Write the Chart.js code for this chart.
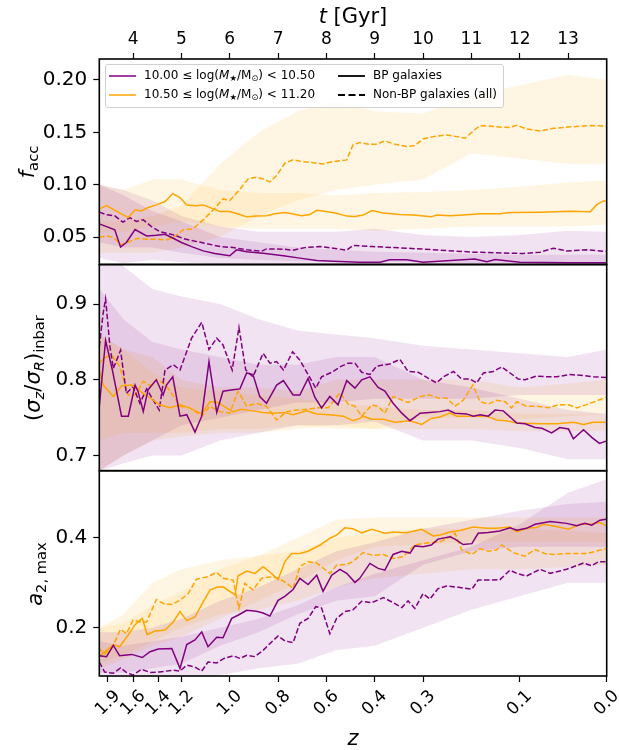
<!DOCTYPE html>
<html>
<head>
<meta charset="utf-8">
<script src="https://cdn.jsdelivr.net/npm/chart.js@4.4.1/dist/chart.umd.min.js"></script>
<style>
  body { margin: 0; background: #fff; }
  #wrap { position: relative; width: 619px; height: 750px; font-family: 'DejaVu Sans', sans-serif; color: #000; }
  #wrap canvas { position: absolute; left: 0; top: 0; }
  .lab { position: absolute; white-space: nowrap; line-height: 1; }
  .ylab { font-size: 21px; transform: translate(-50%, -50%) rotate(-90deg); }
  .xlab { font-size: 21px; transform: translate(-50%, -50%); }
  .lab sub { font-size: 0.7em; vertical-align: -0.3em; line-height: 0; }
  #legend { position: absolute; left: 105px; top: 64px; width: 397px; height: 42px;
            background: rgba(255,255,255,0.8); border: 1px solid #d0d0d0; border-radius: 3px; font-size: 12px; }
  #legend svg { position: absolute; }
  #legend span { position: absolute; white-space: nowrap; line-height: 14px; }
  #legend sub { font-size: 0.7em; vertical-align: -0.25em; line-height: 0; }
</style>
</head>
<body>
<div id="wrap">
  <canvas id="c1" width="619" height="750"></canvas>
  <canvas id="c2" width="619" height="750"></canvas>
  <canvas id="c3" width="619" height="750"></canvas>

  <div class="lab xlab" style="left:353px; top:16px;"><i>t</i> [Gyr]</div>
  <div class="lab xlab" style="left:353px; top:738px;"><i>z</i></div>
  <div class="lab ylab" style="left:27px; top:162px;"><i>f</i><sub>acc</sub></div>
  <div class="lab ylab" style="left:33px; top:368px;">(<i>σ</i><sub><i>z</i></sub>/<i>σ</i><sub><i>R</i></sub>)<sub>inbar</sub></div>
  <div class="lab ylab" style="left:35px; top:574px;"><i>a</i><sub>2, max</sub></div>

  <div id="legend">
    <svg style="left:3px; top:9px;" width="28" height="4"><line x1="0" y1="2" x2="27" y2="2" stroke="#800080" stroke-width="1.5"/></svg>
    <span style="left:38px; top:3px;">10.00 ≤ log(<i>M</i><sub>★</sub>/M<sub>⊙</sub>) &lt; 10.50</span>
    <svg style="left:3px; top:28px;" width="28" height="4"><line x1="0" y1="2" x2="27" y2="2" stroke="#ffa500" stroke-width="1.5"/></svg>
    <span style="left:38px; top:22px;">10.50 ≤ log(<i>M</i><sub>★</sub>/M<sub>⊙</sub>) &lt; 11.20</span>
    <svg style="left:232px; top:9px;" width="28" height="4"><line x1="0" y1="2" x2="27" y2="2" stroke="#000" stroke-width="1.8"/></svg>
    <span style="left:267px; top:3px;">BP galaxies</span>
    <svg style="left:232px; top:28px;" width="28" height="4"><line x1="0" y1="2" x2="27" y2="2" stroke="#000" stroke-width="1.8" stroke-dasharray="7,3.5"/></svg>
    <span style="left:267px; top:22px;">Non-BP galaxies (all)</span>
  </div>
</div>

<script>
// ---------- data (t in Gyr) ----------
// lo = 10.00-10.50 (purple), hi = 10.50-11.20 (orange), bp = BP galaxies (solid), nb = non-BP (dashed)

// x axis
const tMin = 3.30;
const tMax = 13.80;
const tTicks = [4, 5, 6, 7, 8, 9, 10, 11, 12, 13];
const zTickT = [3.48, 4.00, 4.52, 5.00, 6.00, 7.00, 8.00, 9.00, 10.00, 12.00, 13.80];
const zTickLabels = ['1.9', '1.6', '1.4', '1.2', '1.0', '0.8', '0.6', '0.4', '0.3', '0.1', '0.0'];

// y ticks
const faccTicks = [0.05, 0.10, 0.15, 0.20];
const faccTickLabels = ['0.05', '0.10', '0.15', '0.20'];
const sigTicks = [0.7, 0.8, 0.9];
const sigTickLabels = ['0.7', '0.8', '0.9'];
const a2Ticks = [0.2, 0.4];
const a2TickLabels = ['0.2', '0.4'];

// f_acc
const tFaccHiBp = [3.30,3.45,3.69,3.90,4.04,4.17,4.31,4.48,4.66,4.82,4.97,5.11,5.31,5.45,5.66,5.80,6.00,6.17,6.35,6.55,6.76,6.93,7.14,7.31,7.49,7.66,7.80,8.00,8.21,8.42,8.59,8.76,8.94,9.18,9.52,9.80,10.17,10.28,10.56,10.83,11.18,11.59,11.80,12.42,13.04,13.46,13.59,13.73,13.80];
const faccHiBp = [0.0769,0.080,0.0738,0.0686,0.076,0.075,0.0782,0.0807,0.0839,0.0915,0.0877,0.0807,0.0798,0.0807,0.0769,0.0744,0.0744,0.0721,0.0693,0.070,0.0703,0.0722,0.0735,0.0721,0.0703,0.0715,0.0756,0.0744,0.0727,0.070,0.0696,0.071,0.0753,0.073,0.0715,0.071,0.0693,0.071,0.0703,0.071,0.0722,0.0722,0.0735,0.0738,0.0747,0.0741,0.0807,0.0845,0.0845];
const tFaccHiNb = [3.30,3.45,3.59,3.76,3.93,4.10,4.28,4.48,4.69,4.86,5.04,5.24,5.45,5.66,5.86,6.00,6.17,6.38,6.55,6.69,6.83,6.97,7.14,7.31,7.49,7.69,7.93,8.14,8.42,8.55,8.69,8.87,9.04,9.21,9.42,9.66,9.83,10.00,10.21,10.49,10.70,10.87,11.04,11.18,11.39,11.59,11.80,11.94,12.14,12.42,12.70,13.11,13.46,13.80];
const faccHiNb = [0.0495,0.0511,0.0495,0.0426,0.0458,0.0489,0.048,0.048,0.0473,0.0505,0.0569,0.0578,0.0664,0.076,0.0864,0.085,0.0934,0.1055,0.1071,0.1055,0.1027,0.1087,0.1205,0.1237,0.1221,0.1211,0.1198,0.1221,0.1237,0.138,0.1402,0.1386,0.1386,0.1418,0.1386,0.1364,0.1373,0.1437,0.1459,0.1475,0.1459,0.1443,0.1513,0.1564,0.156,0.155,0.1547,0.1567,0.1532,0.1513,0.1538,0.1554,0.1564,0.156];
const tFaccLoBp = [3.30,3.45,3.62,3.74,3.86,4.04,4.28,4.48,4.66,4.83,5.00,5.21,5.45,5.69,6.00,6.14,6.35,6.69,7.11,7.45,7.80,8.14,8.69,9.11,9.31,9.66,10.00,11.07,11.32,11.49,12.00,13.00,13.80];
const faccLoBp = [0.0626,0.060,0.0569,0.0404,0.0448,0.0572,0.0511,0.0517,0.0527,0.0489,0.0448,0.0409,0.0368,0.0343,0.0321,0.0378,0.036,0.0346,0.0321,0.0299,0.0276,0.027,0.026,0.026,0.0283,0.0283,0.026,0.029,0.0265,0.0286,0.026,0.0255,0.0255];
const tFaccLoNb = [3.30,3.45,3.62,3.79,3.93,4.07,4.21,4.38,4.55,4.83,5.04,5.24,5.52,5.80,6.07,6.35,6.66,6.76,7.11,7.31,7.59,7.87,8.14,8.42,8.55,8.94,9.66,10.35,11.04,12.07,12.42,12.70,12.97,13.39,13.80];
const faccLoNb = [0.0738,0.0713,0.0703,0.0642,0.0686,0.0649,0.0664,0.060,0.0553,0.0521,0.0486,0.0464,0.0438,0.0409,0.040,0.0378,0.0365,0.0387,0.0384,0.0375,0.0403,0.0409,0.0394,0.0375,0.0419,0.041,0.0394,0.0375,0.0356,0.0343,0.0356,0.0394,0.0368,0.0378,0.0362];

// (sigma_z/sigma_R)_inbar
const tSigLoBp = [3.30,3.43,3.57,3.76,3.90,4.04,4.10,4.21,4.31,4.48,4.62,4.69,4.82,4.97,5.11,5.28,5.42,5.57,5.73,5.86,6.07,6.21,6.35,6.48,6.62,6.76,6.97,7.11,7.31,7.45,7.62,7.76,7.90,8.07,8.24,8.42,8.59,8.73,8.90,9.07,9.21,9.38,9.56,9.73,9.94,10.14,10.35,10.52,10.66,10.90,11.04,11.18,11.35,11.49,11.66,11.94,12.11,12.32,12.46,12.66,12.83,13.01,13.11,13.32,13.49,13.65,13.79];
const sigLoBp = [0.765,0.852,0.813,0.752,0.752,0.793,0.785,0.758,0.787,0.800,0.780,0.793,0.804,0.752,0.754,0.731,0.752,0.824,0.757,0.785,0.787,0.788,0.809,0.807,0.778,0.769,0.793,0.799,0.780,0.780,0.802,0.777,0.763,0.778,0.767,0.799,0.789,0.800,0.804,0.790,0.785,0.769,0.756,0.746,0.756,0.757,0.758,0.760,0.756,0.755,0.752,0.754,0.752,0.760,0.759,0.743,0.742,0.737,0.736,0.730,0.737,0.735,0.722,0.734,0.724,0.716,0.719];
const tSigLoNb = [3.30,3.38,3.43,3.52,3.59,3.74,3.86,4.00,4.14,4.28,4.41,4.54,4.66,4.83,4.97,5.21,5.42,5.57,5.73,5.86,6.05,6.19,6.33,6.48,6.69,6.83,6.97,7.11,7.30,7.45,7.62,7.78,7.90,8.11,8.28,8.45,8.59,8.73,8.90,9.04,9.31,9.52,9.69,9.90,10.11,10.28,10.42,10.63,10.80,10.97,11.11,11.25,11.45,11.63,11.80,11.97,12.11,12.35,12.56,12.77,13.04,13.25,13.52,13.79];
const sigLoNb = [0.844,0.888,0.907,0.844,0.815,0.839,0.782,0.791,0.769,0.788,0.774,0.760,0.813,0.820,0.813,0.855,0.876,0.840,0.855,0.846,0.813,0.869,0.813,0.804,0.835,0.822,0.824,0.813,0.837,0.826,0.807,0.789,0.804,0.810,0.817,0.822,0.822,0.810,0.807,0.818,0.821,0.827,0.811,0.810,0.802,0.796,0.804,0.811,0.801,0.801,0.796,0.809,0.811,0.817,0.809,0.801,0.800,0.805,0.804,0.804,0.807,0.806,0.804,0.803];
const tSigHiBp = [3.30,3.38,3.59,3.76,3.97,4.14,4.35,4.55,4.76,4.97,5.17,5.42,5.59,5.76,5.93,6.07,6.24,6.48,6.69,6.90,7.11,7.31,7.59,7.80,8.07,8.35,8.55,8.69,8.76,8.94,9.18,9.42,9.73,9.97,10.17,10.35,10.56,10.70,11.04,11.32,11.52,11.73,11.94,12.42,12.77,13.11,13.32,13.52,13.79];
const sigHiBp = [0.813,0.793,0.778,0.792,0.793,0.785,0.776,0.767,0.763,0.767,0.763,0.755,0.771,0.770,0.763,0.758,0.761,0.759,0.757,0.756,0.757,0.754,0.759,0.755,0.754,0.752,0.746,0.749,0.752,0.748,0.748,0.744,0.746,0.741,0.749,0.751,0.756,0.752,0.752,0.752,0.747,0.746,0.743,0.742,0.742,0.744,0.741,0.744,0.744];
const tSigHiNb = [3.30,3.41,3.55,3.72,3.90,4.04,4.21,4.35,4.48,4.62,4.76,4.97,5.17,5.42,5.59,5.80,6.00,6.17,6.35,6.55,6.76,6.97,7.18,7.38,7.59,7.83,8.04,8.28,8.45,8.59,8.73,8.94,9.07,9.21,9.38,9.69,9.94,10.14,10.31,10.49,10.66,10.83,11.03,11.18,11.35,11.52,11.70,11.83,11.94,12.14,12.35,12.59,12.80,13.01,13.18,13.42,13.79];
const sigHiNb = [0.822,0.829,0.833,0.818,0.780,0.780,0.798,0.792,0.800,0.796,0.786,0.765,0.763,0.752,0.765,0.758,0.756,0.785,0.765,0.769,0.765,0.747,0.758,0.760,0.761,0.763,0.763,0.783,0.768,0.765,0.752,0.767,0.765,0.756,0.778,0.770,0.778,0.780,0.776,0.776,0.765,0.773,0.793,0.771,0.768,0.773,0.771,0.763,0.771,0.765,0.765,0.763,0.767,0.767,0.763,0.768,0.777];

// a_2,max
const tA2HiBp = [3.30,3.45,3.59,3.72,3.90,4.04,4.19,4.29,4.45,4.66,4.83,4.97,5.11,5.28,5.42,5.59,5.73,5.86,6.00,6.11,6.17,6.35,6.52,6.69,6.83,7.00,7.14,7.28,7.45,7.62,7.87,8.07,8.21,8.38,8.55,8.73,8.94,9.21,9.38,9.66,9.97,10.21,10.35,10.56,10.76,11.04,11.32,11.52,11.80,11.94,12.14,12.35,12.49,12.70,13.01,13.25,13.46,13.66,13.79];
const a2HiBp = [0.136,0.150,0.163,0.158,0.184,0.207,0.221,0.185,0.193,0.195,0.213,0.236,0.216,0.224,0.252,0.284,0.290,0.291,0.281,0.273,0.315,0.326,0.321,0.336,0.324,0.307,0.347,0.365,0.365,0.370,0.384,0.399,0.406,0.422,0.420,0.411,0.419,0.410,0.413,0.411,0.419,0.404,0.406,0.413,0.416,0.424,0.421,0.421,0.424,0.413,0.421,0.423,0.430,0.426,0.419,0.430,0.430,0.434,0.427];
const tA2HiNb = [3.30,3.41,3.59,3.74,3.86,4.00,4.14,4.28,4.48,4.62,4.80,4.97,5.14,5.31,5.52,5.73,5.86,6.07,6.19,6.31,6.48,6.66,6.83,7.00,7.18,7.31,7.45,7.62,7.80,8.07,8.21,8.42,8.55,8.69,8.76,8.97,9.18,9.38,9.59,9.83,10.11,10.35,10.56,10.66,10.80,11.01,11.18,11.35,11.52,11.63,11.87,12.11,12.32,12.52,12.70,12.97,13.39,13.79];
const a2HiNb = [0.154,0.141,0.161,0.197,0.187,0.217,0.213,0.213,0.263,0.254,0.252,0.261,0.276,0.308,0.313,0.323,0.310,0.306,0.243,0.299,0.284,0.310,0.313,0.311,0.299,0.287,0.336,0.347,0.344,0.321,0.339,0.341,0.347,0.361,0.367,0.361,0.363,0.354,0.358,0.384,0.389,0.391,0.402,0.410,0.373,0.363,0.376,0.370,0.373,0.384,0.367,0.359,0.374,0.365,0.363,0.365,0.365,0.376];
const tA2LoBp = [3.30,3.45,3.59,3.72,3.97,4.19,4.35,4.52,4.80,4.97,5.11,5.28,5.42,5.55,5.73,5.86,6.04,6.17,6.35,6.55,6.69,6.83,7.00,7.14,7.31,7.45,7.62,7.80,7.93,8.11,8.28,8.42,8.59,8.69,8.90,9.07,9.21,9.38,9.56,9.73,9.83,10.00,10.17,10.31,10.56,10.66,10.83,11.01,11.14,11.35,11.59,11.80,11.94,12.14,12.32,12.63,12.97,13.18,13.35,13.49,13.66,13.79];
const a2LoBp = [0.138,0.136,0.161,0.138,0.141,0.134,0.147,0.153,0.154,0.110,0.163,0.173,0.191,0.158,0.179,0.178,0.221,0.228,0.239,0.237,0.233,0.226,0.261,0.270,0.285,0.310,0.296,0.317,0.281,0.317,0.330,0.321,0.301,0.310,0.343,0.332,0.328,0.363,0.370,0.366,0.382,0.380,0.384,0.397,0.402,0.397,0.385,0.387,0.410,0.412,0.415,0.422,0.417,0.421,0.430,0.436,0.432,0.427,0.432,0.428,0.439,0.441];
const tA2LoNb = [3.30,3.41,3.59,3.74,3.86,4.00,4.17,4.35,4.55,4.83,4.97,5.11,5.28,5.42,5.55,5.73,5.88,6.07,6.21,6.35,6.52,6.69,6.83,7.00,7.14,7.31,7.45,7.62,7.78,7.90,8.07,8.21,8.38,8.55,8.73,8.94,9.18,9.38,9.56,9.69,9.83,10.00,10.14,10.31,10.49,10.73,11.01,11.14,11.35,11.59,11.80,11.94,12.14,12.42,12.63,12.97,13.32,13.49,13.63,13.79];
const a2LoNb = [0.124,0.102,0.099,0.111,0.101,0.095,0.108,0.101,0.102,0.106,0.104,0.117,0.113,0.104,0.124,0.122,0.132,0.138,0.132,0.139,0.136,0.150,0.165,0.182,0.171,0.167,0.210,0.221,0.247,0.244,0.187,0.221,0.236,0.240,0.259,0.256,0.267,0.256,0.245,0.260,0.243,0.276,0.264,0.287,0.293,0.290,0.286,0.306,0.306,0.307,0.328,0.321,0.315,0.330,0.321,0.330,0.344,0.338,0.347,0.347];

// shaded ranges (lower / upper edge) on a coarser t grid
const bandT = [3.3, 3.8, 4.4, 5.0, 5.8, 6.6, 7.4, 8.2, 9.0, 10.0, 11.0, 12.0, 13.0, 13.8];
const faccHiNbLo = [0.035,0.035,0.035,0.040,0.050,0.070,0.085,0.095,0.100,0.105,0.130,0.125,0.120,0.120];
const faccHiNbHi = [0.065,0.065,0.070,0.080,0.120,0.150,0.170,0.180,0.170,0.168,0.185,0.195,0.205,0.200];
const faccHiBpLo = [0.055,0.055,0.060,0.065,0.060,0.058,0.058,0.058,0.056,0.058,0.060,0.060,0.060,0.062];
const faccHiBpHi = [0.100,0.095,0.105,0.105,0.095,0.092,0.092,0.090,0.092,0.093,0.095,0.098,0.102,0.104];
const faccLoBpLo = [0.030,0.025,0.028,0.026,0.024,0.022,0.021,0.020,0.020,0.020,0.020,0.019,0.019,0.019];
const faccLoBpHi = [0.100,0.090,0.075,0.065,0.050,0.045,0.040,0.038,0.036,0.035,0.034,0.033,0.033,0.033];
const faccLoNbLo = [0.045,0.040,0.040,0.035,0.030,0.028,0.027,0.027,0.027,0.026,0.025,0.025,0.025,0.025];
const faccLoNbHi = [0.100,0.095,0.085,0.070,0.060,0.055,0.055,0.055,0.058,0.052,0.050,0.052,0.056,0.055];

const sigLoNbLo = [0.68,0.70,0.72,0.74,0.75,0.76,0.77,0.77,0.775,0.775,0.775,0.78,0.78,0.78];
const sigLoNbHi = [0.96,0.95,0.92,0.91,0.90,0.88,0.865,0.86,0.855,0.845,0.84,0.835,0.83,0.84];
const sigLoBpLo = [0.68,0.69,0.70,0.70,0.72,0.73,0.74,0.74,0.745,0.72,0.72,0.71,0.695,0.695];
const sigLoBpHi = [0.92,0.88,0.85,0.84,0.83,0.82,0.82,0.83,0.83,0.80,0.79,0.775,0.76,0.755];
const sigHiBpLo = [0.72,0.73,0.73,0.73,0.735,0.735,0.74,0.735,0.735,0.735,0.735,0.732,0.732,0.733];
const sigHiBpHi = [0.86,0.84,0.81,0.79,0.785,0.78,0.775,0.77,0.765,0.76,0.76,0.755,0.755,0.755];
const sigHiNbLo = [0.68,0.70,0.72,0.725,0.73,0.73,0.735,0.74,0.735,0.75,0.75,0.748,0.752,0.755];
const sigHiNbHi = [0.86,0.84,0.83,0.80,0.79,0.79,0.785,0.80,0.80,0.80,0.80,0.79,0.795,0.80];

const a2HiBpLo = [0.11,0.13,0.16,0.18,0.22,0.26,0.30,0.35,0.38,0.385,0.39,0.39,0.39,0.39];
const a2HiBpHi = [0.20,0.21,0.25,0.28,0.33,0.36,0.40,0.44,0.445,0.445,0.445,0.445,0.445,0.445];
const a2HiNbLo = [0.12,0.14,0.17,0.20,0.23,0.24,0.26,0.29,0.31,0.32,0.33,0.33,0.335,0.34];
const a2HiNbHi = [0.20,0.23,0.30,0.33,0.35,0.36,0.37,0.40,0.41,0.42,0.42,0.42,0.415,0.41];
const a2LoBpLo = [0.10,0.10,0.11,0.12,0.16,0.19,0.23,0.26,0.27,0.34,0.37,0.38,0.38,0.38];
const a2LoBpHi = [0.19,0.19,0.20,0.22,0.26,0.29,0.33,0.37,0.39,0.42,0.44,0.46,0.475,0.48];
const a2LoNbLo = [0.09,0.09,0.09,0.09,0.095,0.11,0.12,0.15,0.16,0.20,0.24,0.27,0.30,0.30];
const a2LoNbHi = [0.17,0.16,0.17,0.18,0.20,0.22,0.25,0.29,0.32,0.35,0.38,0.43,0.50,0.53];

// ---------- styles ----------
const PURPLE = '#800080';
const ORANGE = '#ffa500';
const PURPLE_FILL = 'rgba(128,0,128,0.11)';
const ORANGE_FILL = 'rgba(255,165,0,0.11)';

Chart.defaults.font.family = "'DejaVu Sans', sans-serif";
Chart.defaults.color = '#000';

function line(ts, vs, color, dashed) {
  const data = [];
  for (let i = 0; i < ts.length; i++) {
    data.push({ x: ts[i], y: vs[i] });
  }
  return {
    data: data,
    borderColor: color,
    borderWidth: 1.5,
    borderDash: dashed ? [5.5, 2.4] : [],
    pointRadius: 0,
    tension: 0,
    fill: false
  };
}

// upper edge filled down to the lower edge (next dataset)
function band(lo, hi, color) {
  const up = [];
  const down = [];
  for (let i = 0; i < bandT.length; i++) {
    up.push({ x: bandT[i], y: hi[i] });
    down.push({ x: bandT[i], y: lo[i] });
  }
  return [
    { data: up, borderWidth: 0, pointRadius: 0, backgroundColor: color, fill: '+1' },
    { data: down, borderWidth: 0, pointRadius: 0, fill: false }
  ];
}

// black frame round each panel
const framePlugin = {
  id: 'frame',
  afterDraw(chart) {
    const a = chart.chartArea;
    const ctx = chart.ctx;
    ctx.save();
    ctx.strokeStyle = '#000';
    ctx.lineWidth = 1.6;
    ctx.strokeRect(a.left, a.top, a.right - a.left, a.bottom - a.top);
    ctx.restore();
  }
};

// redshift labels, rotated 45 deg and centred under each tick
const zLabelPlugin = {
  id: 'zlabels',
  afterDraw(chart) {
    const sc = chart.scales.x;
    const ctx = chart.ctx;
    ctx.save();
    ctx.font = "17px 'DejaVu Sans'";
    ctx.fillStyle = '#000';
    ctx.textAlign = 'center';
    ctx.textBaseline = 'middle';
    for (let i = 0; i < zTickT.length; i++) {
      const px = sc.getPixelForValue(zTickT[i]);
      ctx.save();
      ctx.translate(px, chart.chartArea.bottom + 27);
      ctx.rotate(-Math.PI / 4);
      ctx.fillText(zTickLabels[i], 0, 0);
      ctx.restore();
    }
    ctx.restore();
  }
};

const tickGrid = { drawOnChartArea: false, drawTicks: true, tickLength: 6, tickColor: '#000', tickWidth: 1.2 };

function makePanel(id, datasets, yMin, yMax, yTicks, yLabels, padTop, padBottom, xMode) {
  let xAxis = {
    type: 'linear',
    min: tMin,
    max: tMax,
    display: xMode !== 'none',
    position: xMode === 'top' ? 'top' : 'bottom',
    grid: tickGrid,
    border: { display: false },
    afterBuildTicks: function (scale) {
      const list = xMode === 'bottom' ? zTickT : tTicks;
      scale.ticks = list.map(v => ({ value: v }));
    }
  };
  if (xMode === 'top') {
    xAxis.ticks = { font: { size: 17 }, padding: 3, maxRotation: 0, autoSkip: false,
                    callback: (v) => String(v) };
    xAxis.afterFit = (s) => { s.height = 59; };
  } else if (xMode === 'bottom') {
    xAxis.ticks = { autoSkip: false, maxRotation: 0, callback: () => '' };
    xAxis.afterFit = (s) => { s.height = 74; };
  }

  new Chart(document.getElementById(id), {
    type: 'line',
    data: { datasets: datasets },
    options: {
      responsive: false,
      animation: false,
      events: [],
      layout: { padding: { top: padTop, bottom: padBottom, left: 0, right: 12.3 } },
      plugins: { legend: { display: false }, tooltip: { enabled: false } },
      scales: {
        x: xAxis,
        y: {
          type: 'linear',
          min: yMin,
          max: yMax,
          grid: tickGrid,
          border: { display: false },
          ticks: { font: { size: 20 }, padding: 6,
                   callback: (v, i) => yLabels[i] },
          afterBuildTicks: function (scale) {
            scale.ticks = yTicks.map(v => ({ value: v }));
          },
          afterFit: (s) => { s.width = 99.3; }
        }
      }
    },
    plugins: xMode === 'bottom' ? [framePlugin, zLabelPlugin] : [framePlugin]
  });
}

// top panel: accreted fraction
makePanel('c1', [
  line(tFaccLoBp, faccLoBp, PURPLE, false),
  line(tFaccHiBp, faccHiBp, ORANGE, false),
  line(tFaccLoNb, faccLoNb, PURPLE, true),
  line(tFaccHiNb, faccHiNb, ORANGE, true),
  ...band(faccLoBpLo, faccLoBpHi, PURPLE_FILL),
  ...band(faccHiBpLo, faccHiBpHi, ORANGE_FILL),
  ...band(faccLoNbLo, faccLoNbHi, PURPLE_FILL),
  ...band(faccHiNbLo, faccHiNbHi, ORANGE_FILL)
], 0.024, 0.220, faccTicks, faccTickLabels, 0, 485.7, 'top');

// middle panel: velocity dispersion ratio
makePanel('c2', [
  line(tSigLoBp, sigLoBp, PURPLE, false),
  line(tSigHiBp, sigHiBp, ORANGE, false),
  line(tSigLoNb, sigLoNb, PURPLE, true),
  line(tSigHiNb, sigHiNb, ORANGE, true),
  ...band(sigLoBpLo, sigLoBpHi, PURPLE_FILL),
  ...band(sigHiBpLo, sigHiBpHi, ORANGE_FILL),
  ...band(sigLoNbLo, sigLoNbHi, PURPLE_FILL),
  ...band(sigHiNbLo, sigHiNbHi, ORANGE_FILL)
], 0.680, 0.952, sigTicks, sigTickLabels, 264.7, 279.3, 'none');

// bottom panel: bar strength
makePanel('c3', [
  line(tA2LoBp, a2LoBp, PURPLE, false),
  line(tA2HiBp, a2HiBp, ORANGE, false),
  line(tA2LoNb, a2LoNb, PURPLE, true),
  line(tA2HiNb, a2HiNb, ORANGE, true),
  ...band(a2LoBpLo, a2LoBpHi, PURPLE_FILL),
  ...band(a2HiBpLo, a2HiBpHi, ORANGE_FILL),
  ...band(a2LoNbLo, a2LoNbHi, PURPLE_FILL),
  ...band(a2HiNbLo, a2HiNbHi, ORANGE_FILL)
], 0.093, 0.549, a2Ticks, a2TickLabels, 470.7, 0, 'bottom');
</script>
</body>
</html>
